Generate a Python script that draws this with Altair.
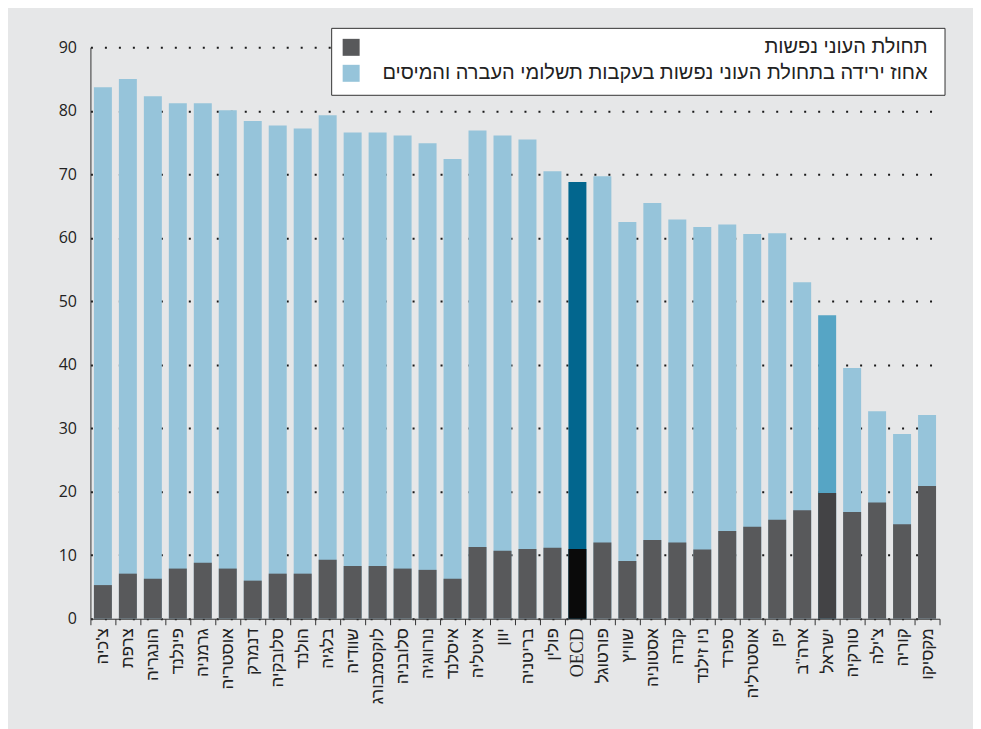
import altair as alt
import pandas as pd

countries = ["צ'כיה", "צרפת", "הונגריה", "פינלנד", "גרמניה", "אוסטריה", "דנמרק",
             "סלובקיה", "הולנד", "בלגיה", "שוודיה", "לוקסמבורג", "סלובניה", "נורווגיה",
             "איסלנד", "איטליה", "יוון", "בריטניה", "פולין", "OECD", "פורטוגל", "שוויץ",
             "אסטוניה", "קנדה", "ניו זילנד", "ספרד", "אוסטרליה", "יפן", "ארה\"ב", "ישראל",
             "טורקיה", "צ'ילה", "קוריה", "מקסיקו"]

# poverty rate (persons)
poverty = [5.3, 7.1, 6.3, 7.9, 8.8, 7.9, 6.0, 7.1, 7.1, 9.3, 8.3, 8.3, 7.9, 7.7,
           6.3, 11.3, 10.7, 11.0, 11.2, 11.0, 12.0, 9.1, 12.4, 12.0, 10.9, 13.8,
           14.5, 15.6, 17.1, 19.8, 16.8, 18.3, 14.9, 20.9]

# percent reduction in poverty due to transfers and taxes
reduction = [83.7, 85.0, 82.3, 81.2, 81.2, 80.1, 78.4, 77.7, 77.2, 79.3, 76.6, 76.6,
             76.1, 74.9, 72.4, 76.9, 76.1, 75.5, 70.5, 68.8, 69.7, 62.5, 65.5, 62.9,
             61.7, 62.1, 60.6, 60.7, 53.0, 47.8, 39.5, 32.7, 29.1, 32.1]

legend_labels = ["תחולת העוני נפשות",
                 "אחוז ירידה בתחולת העוני נפשות בעקבות תשלומי העברה והמיסים"]

def kind(c):
    if c == "OECD":
        return "oecd"
    if c == "ישראל":
        return "israel"
    return "other"

df = pd.DataFrame({
    "country": countries,
    "poverty": poverty,
    "reduction": reduction,
    "kind": [kind(c) for c in countries],
})

BG = "#e6e7e8"
HEB = "Liberation Sans"

x_enc = alt.X("country:N", sort=countries, title=None,
              scale=alt.Scale(paddingInner=0, paddingOuter=0),
              axis=alt.Axis(labelAngle=-90, tickBand="extent", tickSize=6,
                            tickColor="#333", domainColor="#333", labelPadding=3,
                            labelFontSize={"condition": {"test": "datum.value === 'OECD'", "value": 18},
                                           "value": 17},
                            labelFont={"condition": {"test": "datum.value === 'OECD'", "value": "Liberation Serif"},
                                       "value": HEB},
                            labelColor="#222", grid=False, labelLimit=200))

y_scale = alt.Scale(domain=[0, 90], nice=False)

blue = alt.Chart(df).mark_bar(width=alt.RelativeBandSize(0.72)).encode(
    x=x_enc,
    y=alt.Y("reduction:Q", scale=y_scale, title=None,
            axis=alt.Axis(values=list(range(0, 91, 10)), tickSize=0, labelPadding=14,
                          domainColor="#333", labelFont="Open Sans", labelFontSize=16,
                          labelColor="#222", grid=True, gridDash=[2, 12],
                          gridColor="#1a1a1a", gridWidth=2)),
    color=alt.Color("kind:N", legend=None,
                    scale=alt.Scale(domain=["other", "oecd", "israel"],
                                    range=["#96c4da", "#02668e", "#56a5c5"])),
)

gray = alt.Chart(df).mark_bar(width=alt.RelativeBandSize(0.72)).encode(
    x=alt.X("country:N", sort=countries),
    y=alt.Y("poverty:Q", scale=y_scale),
    color=alt.Color("kind:N", legend=None,
                    scale=alt.Scale(domain=["other", "oecd", "israel"],
                                    range=["#58595b", "#0a0a0a", "#434345"])),
)

# custom RTL legend
leg_df = pd.DataFrame({"label": legend_labels, "row": [0, 1]})

box = alt.Chart(pd.DataFrame({"a": [0]})).mark_rect(
    fill="white", stroke="#333", strokeWidth=1
).encode(x=alt.value(241.5), x2=alt.value(855.5), y=alt.value(-19), y2=alt.value(48))

sw1 = alt.Chart(pd.DataFrame({"a": [0]})).mark_rect(fill="#58595b").encode(
    x=alt.value(252.5), x2=alt.value(269.5), y=alt.value(-8.5), y2=alt.value(8.5))
sw2 = alt.Chart(pd.DataFrame({"a": [0]})).mark_rect(fill="#96c4da").encode(
    x=alt.value(252.5), x2=alt.value(269.5), y=alt.value(17.5), y2=alt.value(34.5))

txt1 = alt.Chart(leg_df.iloc[[0]]).mark_text(
    align="right", baseline="middle", font=HEB, fontSize=20, color="#222"
).encode(x=alt.value(838), y=alt.value(0), text="label:N")
txt2 = alt.Chart(leg_df.iloc[[1]]).mark_text(
    align="right", baseline="middle", font=HEB, fontSize=20, color="#222"
).encode(x=alt.value(838), y=alt.value(26), text="label:N")

chart = alt.layer(blue, gray, box, sw1, sw2, txt1, txt2).properties(
    width=850, height=572,
    background=BG,
    padding={"left": 82.5, "top": 39, "right": 33.5, "bottom": 110},
    autosize=alt.AutoSizeParams(type="none"),
).configure_view(strokeWidth=0).resolve_scale(color="independent")

chart.save("out.html", embed_options={"renderer": "svg", "actions": False})
